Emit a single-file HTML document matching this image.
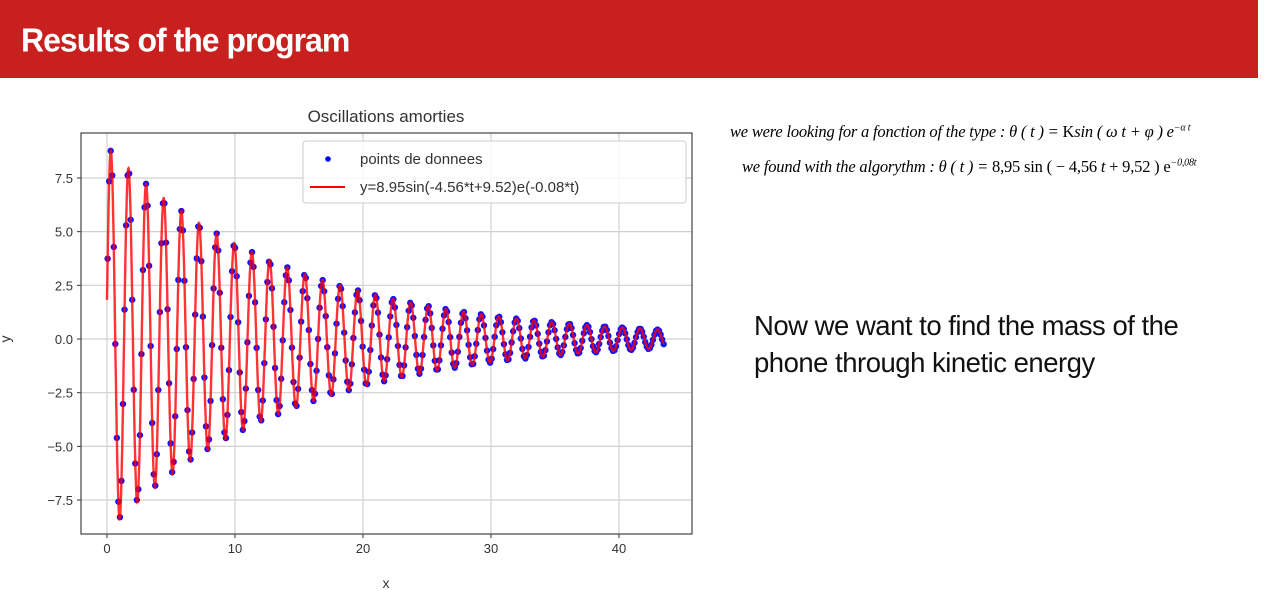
<!DOCTYPE html>
<html><head><meta charset="utf-8">
<style>
body{margin:0;width:1280px;height:594px;background:#fff;position:relative;overflow:hidden;font-family:"Liberation Sans",sans-serif}
#hdr{position:absolute;left:0;top:0;width:1258px;height:78px;background:#c8201e}
#hdr span{position:absolute;left:21px;top:22px;color:#fff;font-weight:bold;font-size:32px;letter-spacing:-1px;transform:scaleY(1.05)}
.eq{position:absolute;font-family:"Liberation Serif",serif;font-style:italic;font-size:16.5px;color:#000;white-space:nowrap;letter-spacing:-0.2px}
#txt{position:absolute;left:754px;top:307px;font-size:27.5px;line-height:37px;color:#111;letter-spacing:-0.5px}
</style></head><body>
<div id="hdr"><span>Results of the program</span></div>
<div class="eq" style="left:730px;top:122px">we were looking for a fonction of the type : θ ( t ) = <span style="font-style:normal">K</span>sin ( ω t + φ ) e<sup style="font-size:10px">−α t</sup></div>
<div class="eq" style="left:742px;top:157px">we found with the algorythm : θ ( t ) = <span style="font-style:normal">8,95 sin ( − 4,56</span> t <span style="font-style:normal">+ 9,52 ) e</span><sup style="font-size:10px">−0,08t</sup></div>
<div id="txt">Now we want to find the mass of the<br>phone through kinetic energy</div>
<svg id="chart" width="720" height="594" style="position:absolute;left:0;top:0"></svg>
<script>
const fitParams=[8.95,-4.56,9.22,0.07]; // K, omega, phi, alpha (as drawn)
const dataScale=[1.0];
const sampleStep=[0.12];
const sampleStart=[0.05];
const tMax=[43.5];
const xTicks=[0,10,20,30,40];
const yTicks=[-7.5,-5.0,-2.5,0.0,2.5,5.0,7.5];
const yTickLabels=["−7.5","−5.0","−2.5","0.0","2.5","5.0","7.5"];

const svg=document.getElementById('chart');
const NS='http://www.w3.org/2000/svg';
const L=81,R=692,T=133,B=534;
const X=v=>107+v*12.8, Y=v=>339-v*21.47;
function mk(tag,attrs,name){const e=document.createElementNS(NS,tag);for(const k in attrs)e.setAttribute(k,attrs[k]);


svg.appendChild(e);return e;}
mk('rect',{x:L,y:T,width:R-L,height:B-T,fill:'#fff'},'plot-area');
xTicks.forEach(v=>{mk('line',{x1:X(v),x2:X(v),y1:T,y2:B,stroke:'#d0d0d0','stroke-width':1.2},'x-grid-line');
mk('line',{x1:X(v),x2:X(v),y1:B,y2:B+4,stroke:'#333'},'x-tick');
const t=mk('text',{x:X(v),y:B+19,'text-anchor':'middle','font-size':13,fill:'#333'},'x-tick-label');t.textContent=v;});
yTicks.forEach((v,i)=>{mk('line',{x1:L,x2:R,y1:Y(v),y2:Y(v),stroke:'#d0d0d0','stroke-width':1.2},'y-grid-line');
mk('line',{x1:L-4,x2:L,y1:Y(v),y2:Y(v),stroke:'#333'},'y-tick');
const t=mk('text',{x:L-8,y:Y(v)+5,'text-anchor':'end','font-size':13,fill:'#333'},'y-tick-label');t.textContent=yTickLabels[i];});
const [K,w,ph,a]=fitParams;
const f=t=>K*Math.sin(w*t+ph)*Math.exp(-a*t);
for(let t=sampleStart[0];t<=tMax[0];t+=sampleStep[0]){
mk('circle',{cx:X(t),cy:Y(f(t)*dataScale[0]),r:3.2,fill:'#1010ff'},'data-point');}
let d='';for(let t=0;t<=tMax[0];t+=0.02){d+=(d?'L':'M')+X(t).toFixed(1)+' '+Y(f(t)).toFixed(1);}
mk('path',{d:d,fill:'none',stroke:'#ff0000','stroke-width':2.4,'stroke-opacity':0.8},'fit-curve');
mk('rect',{x:L,y:T,width:R-L,height:B-T,fill:'none',stroke:'#444','stroke-width':1.2},'plot-frame');
mk('rect',{x:303,y:141,width:383,height:62,fill:'#fff','fill-opacity':0.85,stroke:'#ccc',rx:3},'legend-box');
mk('circle',{cx:328,cy:159,r:2.8,fill:'#0000ff'},'legend-marker-points');
let t1=mk('text',{x:360,y:164,'font-size':15,fill:'#333'},'legend-label-points');t1.textContent='points de donnees';
mk('line',{x1:310,x2:345,y1:187,y2:187,stroke:'#ff0000','stroke-width':2},'legend-marker-fit');
let t2=mk('text',{x:360,y:192,'font-size':15,fill:'#333'},'legend-label-fit');t2.textContent='y=8.95sin(-4.56*t+9.52)e(-0.08*t)';
let tt=mk('text',{x:386,y:122,'text-anchor':'middle','font-size':17,fill:'#333'},'chart-title');tt.textContent='Oscillations amorties';
let xl=mk('text',{x:386,y:588,'text-anchor':'middle','font-size':14,fill:'#333'},'x-axis-title');xl.textContent='x';
let yl=mk('text',{x:10,y:339,'text-anchor':'middle','font-size':14,fill:'#333',transform:'rotate(-90 10 339)'},'y-axis-title');yl.textContent='y';
</script>
</body></html>
